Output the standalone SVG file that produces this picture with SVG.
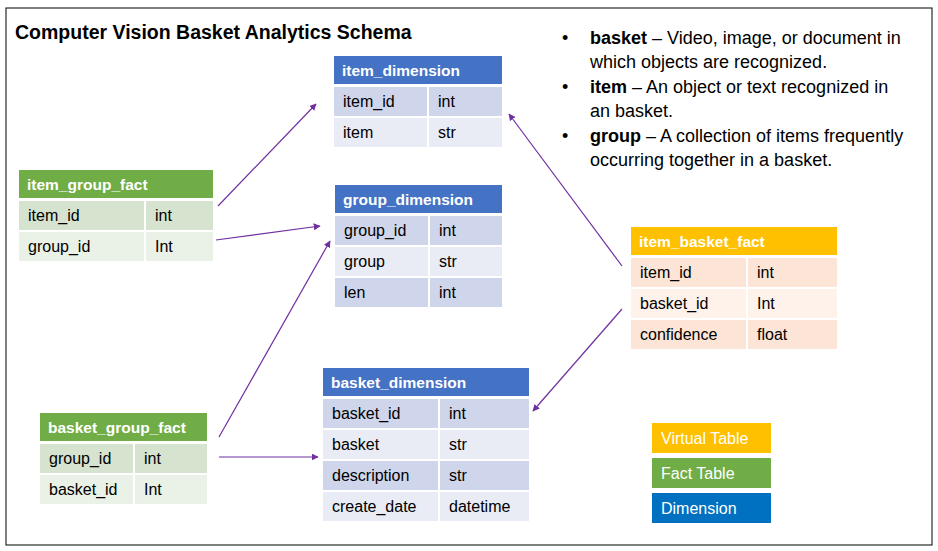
<svg xmlns="http://www.w3.org/2000/svg" width="938" height="551" viewBox="0 0 938 551">
<defs>
<style>
text{font-family:"Liberation Sans",Arial,sans-serif;}
.t{font-size:16px;fill:#000;}
.h{font-size:15.5px;font-weight:bold;fill:#fff;}
.lg{font-size:16px;fill:#fff;}
.b{font-size:18px;fill:#000;}
.bb{font-weight:bold;}
.dh{fill:#4472C4;}.d1{fill:#CFD5EA;}.d2{fill:#E9EBF5;}
.fh{fill:#70AD47;}.f1{fill:#D5E3CF;}.f2{fill:#EAF1E7;}
.vh{fill:#FFC000;}.v1{fill:#FCE4D6;}.v2{fill:#FEF2EA;}
.c{stroke:#7030A0;stroke-width:1.2;fill:none;marker-end:url(#ah);}
</style>
<marker id="ah" viewBox="0 0 10 10" refX="9" refY="5" markerWidth="7" markerHeight="7" orient="auto" markerUnits="userSpaceOnUse">
<path d="M0,0 L10,5 L0,10 z" fill="#7030A0"/>
</marker>
</defs>
<rect x="6" y="8" width="926" height="537" fill="#fff" stroke="#000" stroke-width="1"/>
<text x="15" y="39" style="font-size:19.5px;font-weight:bold">Computer Vision Basket Analytics Schema</text>
<g id="legend-text">
<text class="b" x="562" y="44">•</text>
<text class="b" x="590" y="44"><tspan class="bb">basket</tspan> – Video, image, or document in</text>
<text class="b" x="590" y="68">which objects are recognized.</text>
<text class="b" x="562" y="93">•</text>
<text class="b" x="590" y="93"><tspan class="bb">item</tspan> – An object or text recognized in</text>
<text class="b" x="590" y="117">an basket.</text>
<text class="b" x="562" y="142">•</text>
<text class="b" x="590" y="142"><tspan class="bb">group</tspan> – A collection of items frequently</text>
<text class="b" x="590" y="166">occurring together in a basket.</text>
</g>
<g id="connectors">
<path class="c" d="M218,206 L316,104"/>
<path class="c" d="M216,240 L320,226"/>
<path class="c" d="M219,437 L330,241"/>
<path class="c" d="M219,457 L318,457"/>
<path class="c" d="M622,266 L509,114"/>
<path class="c" d="M622,309 L533,411"/>
</g>
<g id="item_dimension">
<rect class="dh" x="334" y="56" width="168" height="28"/>
<text class="h" x="342" y="76">item_dimension</text>
<rect class="d1" x="334" y="87" width="93" height="29"/><rect class="d1" x="429" y="87" width="73" height="29"/>
<rect class="d2" x="334" y="118" width="93" height="29"/><rect class="d2" x="429" y="118" width="73" height="29"/>
<text class="t" x="343" y="107">item_id</text><text class="t" x="438" y="107">int</text>
<text class="t" x="343" y="138">item</text><text class="t" x="438" y="138">str</text>
</g>
<g id="group_dimension">
<rect class="dh" x="335" y="185" width="167" height="28"/>
<text class="h" x="343" y="205">group_dimension</text>
<rect class="d1" x="335" y="216" width="93" height="29"/><rect class="d1" x="430" y="216" width="72" height="29"/>
<rect class="d2" x="335" y="247" width="93" height="29"/><rect class="d2" x="430" y="247" width="72" height="29"/>
<rect class="d1" x="335" y="278" width="93" height="29"/><rect class="d1" x="430" y="278" width="72" height="29"/>
<text class="t" x="344" y="236">group_id</text><text class="t" x="439" y="236">int</text>
<text class="t" x="344" y="267">group</text><text class="t" x="439" y="267">str</text>
<text class="t" x="344" y="298">len</text><text class="t" x="439" y="298">int</text>
</g>
<g id="item_group_fact">
<rect class="fh" x="19" y="170" width="194" height="28"/>
<text class="h" x="27" y="190">item_group_fact</text>
<rect class="f1" x="19" y="201" width="125" height="29"/><rect class="f1" x="146" y="201" width="67" height="29"/>
<rect class="f2" x="19" y="232" width="125" height="29"/><rect class="f2" x="146" y="232" width="67" height="29"/>
<text class="t" x="28" y="221">item_id</text><text class="t" x="155" y="221">int</text>
<text class="t" x="28" y="252">group_id</text><text class="t" x="155" y="252">Int</text>
</g>
<g id="item_basket_fact">
<rect class="vh" x="631" y="227" width="206" height="28"/>
<text class="h" x="639" y="247">item_basket_fact</text>
<rect class="v1" x="631" y="258" width="115" height="29"/><rect class="v1" x="748" y="258" width="89" height="29"/>
<rect class="v2" x="631" y="289" width="115" height="29"/><rect class="v2" x="748" y="289" width="89" height="29"/>
<rect class="v1" x="631" y="320" width="115" height="29"/><rect class="v1" x="748" y="320" width="89" height="29"/>
<text class="t" x="640" y="278">item_id</text><text class="t" x="757" y="278">int</text>
<text class="t" x="640" y="309">basket_id</text><text class="t" x="757" y="309">Int</text>
<text class="t" x="640" y="340">confidence</text><text class="t" x="757" y="340">float</text>
</g>
<g id="basket_dimension">
<rect class="dh" x="323" y="368" width="206" height="28"/>
<text class="h" x="331" y="388">basket_dimension</text>
<rect class="d1" x="323" y="399" width="115" height="29"/><rect class="d1" x="440" y="399" width="89" height="29"/>
<rect class="d2" x="323" y="430" width="115" height="29"/><rect class="d2" x="440" y="430" width="89" height="29"/>
<rect class="d1" x="323" y="461" width="115" height="29"/><rect class="d1" x="440" y="461" width="89" height="29"/>
<rect class="d2" x="323" y="492" width="115" height="29"/><rect class="d2" x="440" y="492" width="89" height="29"/>
<text class="t" x="332" y="419">basket_id</text><text class="t" x="449" y="419">int</text>
<text class="t" x="332" y="450">basket</text><text class="t" x="449" y="450">str</text>
<text class="t" x="332" y="481">description</text><text class="t" x="449" y="481">str</text>
<text class="t" x="332" y="512">create_date</text><text class="t" x="449" y="512">datetime</text>
</g>
<g id="basket_group_fact">
<rect class="fh" x="40" y="413" width="167" height="28"/>
<text class="h" x="48" y="433">basket_group_fact</text>
<rect class="f1" x="40" y="444" width="93" height="29"/><rect class="f1" x="135" y="444" width="72" height="29"/>
<rect class="f2" x="40" y="475" width="93" height="29"/><rect class="f2" x="135" y="475" width="72" height="29"/>
<text class="t" x="49" y="464">group_id</text><text class="t" x="144" y="464">int</text>
<text class="t" x="49" y="495">basket_id</text><text class="t" x="144" y="495">Int</text>
</g>
<g id="legend">
<rect class="vh" x="652" y="423" width="119" height="30"/>
<text class="lg" x="661" y="444">Virtual Table</text>
<rect class="fh" x="652" y="458" width="119" height="30"/>
<text class="lg" x="661" y="479">Fact Table</text>
<rect x="652" y="493" width="119" height="30" fill="#0070C0"/>
<text class="lg" x="661" y="514">Dimension</text>
</g>
</svg>
